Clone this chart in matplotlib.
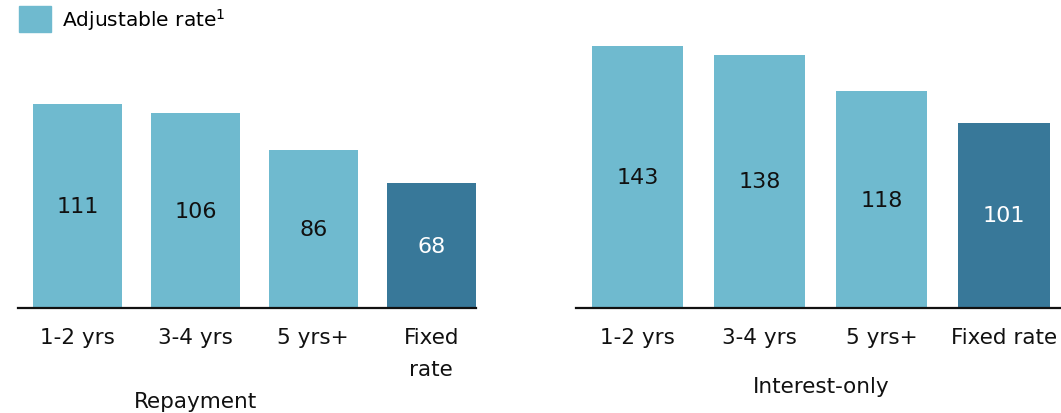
import matplotlib
matplotlib.use("Agg")
import matplotlib.pyplot as plt
from matplotlib.patches import Patch

# data
repay_cats = ["1-2 yrs", "3-4 yrs", "5 yrs+", "Fixed\nrate"]
repay_vals = [111, 106, 86, 68]
io_cats = ["1-2 yrs", "3-4 yrs", "5 yrs+", "Fixed rate"]
io_vals = [143, 138, 118, 101]
is_fixed = [False, False, False, True]
group_titles = ["Repayment", "Interest-only"]

LIGHT = "#6fbacf"
DARK = "#387899"
W, H = 1061, 414

plt.rcParams["font.family"] = ["DejaVu Sans"]
fig = plt.figure(figsize=(W / 100, H / 100), dpi=100)

def px_axes(x0, x1, y_base, y_top):
    return fig.add_axes([x0 / W, 1 - y_base / H, (x1 - x0) / W, (y_base - y_top) / H])

ymax = 150
ax_l = px_axes(18, 476, 309, 309 - ymax * 1.835)
ax_r = px_axes(576, 1061, 309, 309 - ymax * 1.835)

def draw(ax, cats, vals, width, xlim, title, title_x, title_y):
    xs = list(range(len(vals)))
    cols = [DARK if f else LIGHT for f in is_fixed]
    bars = ax.bar(xs, vals, width=width, color=cols)
    for b, v, f in zip(bars, vals, is_fixed):
        ax.text(b.get_x() + b.get_width() / 2, v / 2, str(v), ha="center", va="center",
                fontsize=16, color="white" if f else "#111111")
    ax.set_xlim(*xlim)
    ax.set_ylim(0, ymax)
    ax.set_xticks(xs)
    ax.set_xticklabels(cats, fontsize=15.5, color="#111111", linespacing=1.78)
    ax.tick_params(axis="x", length=0, pad=13.5)
    ax.set_yticks([])
    for s in ("left", "right", "top"):
        ax.spines[s].set_visible(False)
    ax.spines["bottom"].set_linewidth(1.6)
    ax.spines["bottom"].set_color("#111111")
    ax.text(title_x, title_y, title, transform=ax.get_xaxis_transform(),
            ha="center", va="center", fontsize=15.5, color="#111111")

draw(ax_l, repay_cats, repay_vals, 0.754, (-0.504, 3.38), group_titles[0], 1.0, -0.339)
draw(ax_r, io_cats, io_vals, 0.746, (-0.504, 3.467), group_titles[1], 1.5, -0.285)

fig.legend(handles=[Patch(color=LIGHT)], labels=["Adjustable rate$^1$"],
           loc="upper left", bbox_to_anchor=(19 / W, 1 - 7 / H), frameon=False,
           fontsize=14.5, handlelength=1.6, handleheight=1.55, handletextpad=0.55,
           borderpad=0, borderaxespad=0)

fig.savefig("out.png", dpi=100)
